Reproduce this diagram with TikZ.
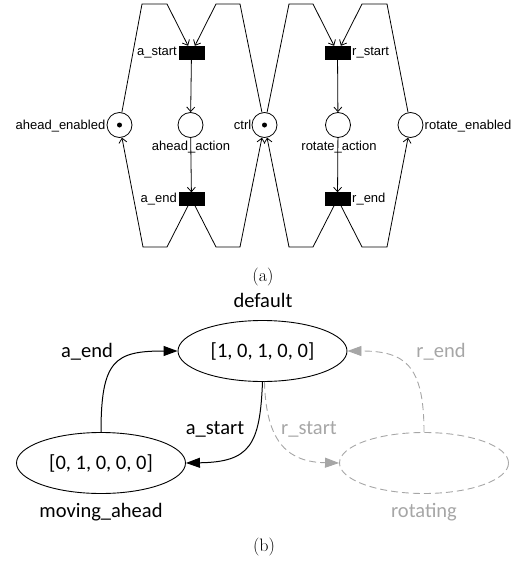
\documentclass[tikz,border=0pt]{standalone}
\usepackage{fontspec}
\newfontfamily\petrifont{Liberation Sans}
\newfontfamily\tsfont{Carlito}
\usetikzlibrary{arrows.meta,shapes.geometric}
\definecolor{ghost}{HTML}{A6A6A6}
\begin{document}
\begin{tikzpicture}[x=1pt,y=-1pt,
  place/.style={circle,draw,line width=0.8pt,minimum size=25pt,inner sep=0pt},
  trans/.style={rectangle,fill=black,draw=black,minimum width=25pt,minimum height=13pt,inner sep=0pt},
  plabel/.style={font=\petrifont\fontsize{13}{13}\selectfont,inner sep=0pt},
  parc/.style={line width=0.8pt,-{Straight Barb[length=4.5pt,width=8pt]}},
  token/.style={circle,fill=black,minimum size=5pt,inner sep=0pt},
  state/.style={ellipse,draw,line width=0.9pt,minimum width=169pt,minimum height=61pt,inner sep=0pt,font=\tsfont\fontsize{20.5}{22}\selectfont},
  ghoststate/.style={state,draw=ghost,dashed,dash pattern=on 7pt off 4pt},
  slabel/.style={font=\tsfont\fontsize{20.5}{22}\selectfont,inner sep=0pt},
  tarc/.style={line width=1pt,-{Triangle[length=14pt,width=10pt]}},
  garc/.style={line width=0.9pt,draw=ghost,dash pattern=on 7pt off 4pt,-{Triangle[length=14pt,width=10pt,fill=ghost]}},
  caption/.style={font=\fontsize{18}{20}\selectfont,inner sep=0pt}
]
\useasboundingbox (0,0) rectangle (518,565);

% ---------- (a) Petri net ----------
\node[place] (ae) at (119.5,125) {};
\node[place] (aa) at (190.5,125) {};
\node[place] (ctrl) at (264.5,125) {};
\node[place] (ra) at (338,125) {};
\node[place] (re) at (410.5,125) {};
\node[token] (tae) at (119.5,125) {};
\node[token] (tctrl) at (264.5,125) {};

\node[trans] (as) at (191.5,52.5) {};
\node[trans] (aend) at (191.5,199) {};
\node[trans] (rs) at (337.5,52.5) {};
\node[trans] (rend) at (337.5,199) {};

\node[plabel,anchor=east] (lae) at (105.5,126) {ahead\_enabled};
\node[plabel,anchor=east] (lctrl) at (251.5,125) {ctrl};
\node[plabel,anchor=west] (lre) at (424.5,126) {rotate\_enabled};
\node[plabel] (laa) at (191,147) {ahead\_action};
\node[plabel] (lra) at (339,147) {rotate\_action};
\node[plabel,anchor=east] (las) at (177,53) {a\_start};
\node[plabel,anchor=east] (laend) at (177,199.5) {a\_end};
\node[plabel,anchor=west] (lrs) at (352,53) {r\_start};
\node[plabel,anchor=west] (lrend) at (352,199.5) {r\_end};

\draw[parc] (ae) -- (142,4) -- (167,4) -- (as);
\draw[parc] (ctrl) -- (240,4) -- (216,4) -- (as);
\draw[parc] (as) -- (aa);
\draw[parc] (aa) -- (aend);
\draw[parc] (aend) -- (167,247) -- (143,247) -- (ae);
\draw[parc] (aend) -- (216,247) -- (240,247) -- (ctrl);

\draw[parc] (ctrl) -- (289,4) -- (313,4) -- (rs);
\draw[parc] (re) -- (387,4) -- (362,4) -- (rs);
\draw[parc] (rs) -- (ra);
\draw[parc] (ra) -- (rend);
\draw[parc] (rend) -- (313,247) -- (289,247) -- (ctrl);
\draw[parc] (rend) -- (362,247) -- (387,247) -- (re);

\node[caption] (capa) at (263,277) {(a)};

% ---------- (b) state graph ----------
\node[state] (def) at (262.5,351) {[1, 0, 1, 0, 0]};
\node[state] (ma) at (101,463) {[0, 1, 0, 0, 0]};
\node[ghoststate] (rot) at (424,463) {};

\node[slabel] (ldef) at (263,300) {default};
\node[slabel] (lma) at (101,512) {moving\_ahead};
\node[slabel,text=ghost] (lrot) at (424,512) {rotating};

\draw[tarc] (ma.north) .. controls (101,360) and (115,351) .. (def.west);
\draw[tarc] (def.south) .. controls (260,445) and (250,462) .. (ma.east);
\draw[garc] ([xshift=2pt]def.south) .. controls (266,445) and (290,462) .. (rot.west);
\draw[garc] (rot.north) .. controls (424,365) and (405,351) .. (def.east);

\node[slabel] (lae2) at (87,352) {a\_end};
\node[slabel] (las2) at (215,429) {a\_start};
\node[slabel,text=ghost] (lrs2) at (309,429) {r\_start};
\node[slabel,text=ghost] (lre2) at (441,352) {r\_end};

\node[caption] (capb) at (264,547) {(b)};
\end{tikzpicture}
\end{document}
